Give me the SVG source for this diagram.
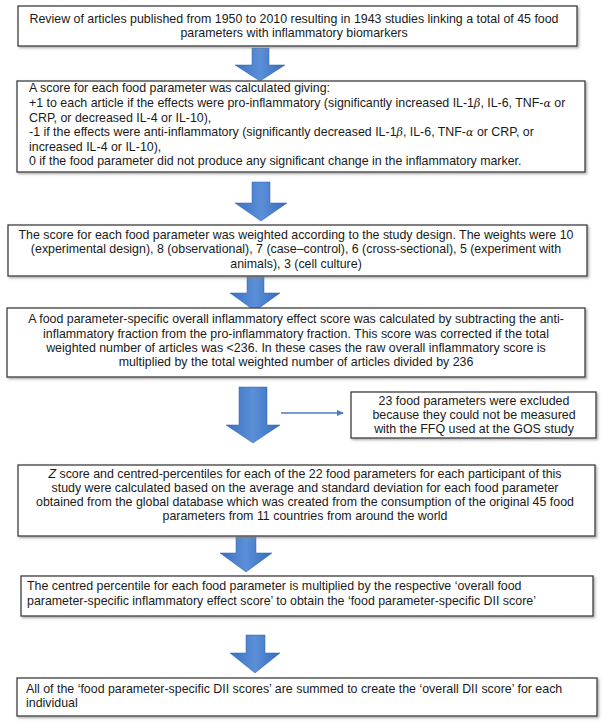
<svg xmlns="http://www.w3.org/2000/svg" width="604" height="722" viewBox="0 0 604 722">
<defs>
<linearGradient id="ah" x1="0" y1="0" x2="1" y2="0">
<stop offset="0" stop-color="#3a70c0"/>
<stop offset="0.5" stop-color="#5b8fd8"/>
<stop offset="1" stop-color="#356bbb"/>
</linearGradient>
<marker id="mh" markerWidth="8" markerHeight="8" refX="6" refY="4" orient="auto" markerUnits="userSpaceOnUse">
<path d="M0,1 L7,4 L0,7 Z" fill="#4a7cc4"/>
</marker>
<filter id="sh" x="-5%" y="-5%" width="110%" height="120%">
<feDropShadow dx="1.5" dy="1.5" stdDeviation="0.8" flood-color="#888" flood-opacity="0.7"/>
</filter>
</defs>
<style>
.box{fill:#fff;stroke:#3c3c3c;stroke-width:1.3;filter:url(#sh)}
text{font-family:"Liberation Sans",Arial,sans-serif;font-size:12.4px;fill:#1a1a1a}
.c{text-anchor:middle}
.arr{fill:url(#ah);stroke:#2f63b0;stroke-width:0.5}
.thin{stroke:#4a7cc4;stroke-width:1.6;fill:none}
.g{font-family:"DejaVu Serif",serif;font-style:italic;font-size:11px}
</style>
<rect width="604" height="722" fill="#fff"/>

<g id="connectors">
<path class="arr" d="M252,48 H269 V65 H285 L260,81 L235,65 H252 Z"/>
<path class="arr" d="M252,182 H270 V203 H287 L261,221 L235,203 H252 Z"/>
<path class="arr" d="M247,277 H264 V293 H280 L255,311 L230,293 H247 Z"/>
<path class="arr" d="M239,387 H267 V425 H280 L253,443 L226,425 H239 Z"/>
<path class="arr" d="M236,537 H256 V553 H272 L246,572 L220,553 H236 Z"/>
<path class="arr" d="M246,635 H265 V653 H280 L255,673 L230,653 H246 Z"/>
<line class="thin" x1="281" y1="413" x2="343" y2="413" marker-end="url(#mh)"/>
</g>

<g id="n1">
<rect class="box" x="18" y="6" width="559" height="40"/>
<text class="c" x="294" y="23">Review of articles published from 1950 to 2010 resulting in 1943 studies linking a total of 45 food</text>
<text class="c" x="294" y="37">parameters with inflammatory biomarkers</text>
</g>

<g id="n2">
<rect class="box" x="17" y="81" width="568" height="91"/>
<text x="29" y="92">A score for each food parameter was calculated giving:</text>
<text x="29" y="107">+1 to each article if the effects were pro-inflammatory (significantly increased IL-1<tspan class="g">β</tspan>, IL-6, TNF-<tspan class="g">α</tspan> or</text>
<text x="29" y="122">CRP, or decreased IL-4 or IL-10),</text>
<text x="29" y="136">-1 if the effects were anti-inflammatory (significantly decreased IL-1<tspan class="g">β</tspan>, IL-6, TNF-<tspan class="g">α</tspan> or CRP, or</text>
<text x="29" y="151">increased IL-4 or IL-10),</text>
<text x="29" y="165">0 if the food parameter did not produce any significant change in the inflammatory marker.</text>
</g>

<g id="n3">
<rect class="box" x="8" y="225" width="579" height="51"/>
<text class="c" x="296" y="239">The score for each food parameter was weighted according to the study design. The weights were 10</text>
<text class="c" x="296" y="253">(experimental design), 8 (observational), 7 (case–control), 6 (cross-sectional), 5 (experiment with</text>
<text class="c" x="296" y="268">animals), 3 (cell culture)</text>
</g>

<g id="n4">
<rect class="box" x="7" y="308" width="578" height="69"/>
<text class="c" x="296" y="323">A food parameter-specific overall inflammatory effect score was calculated by subtracting the anti-</text>
<text class="c" x="296" y="338">inflammatory fraction from the pro-inflammatory fraction. This score was corrected if the total</text>
<text class="c" x="296" y="352">weighted number of articles was &lt;236. In these cases the raw overall inflammatory score is</text>
<text class="c" x="296" y="366">multiplied by the total weighted number of articles divided by 236</text>
</g>

<g id="n5">
<rect class="box" x="351" y="392" width="245" height="46"/>
<text class="c" x="474" y="405">23 food parameters were excluded</text>
<text class="c" x="474" y="419">because they could not be measured</text>
<text class="c" x="474" y="433">with the FFQ used at the GOS study</text>
</g>

<g id="n6">
<rect class="box" x="18" y="465" width="577" height="71"/>
<text class="c" x="305" y="478"><tspan font-style="italic">Z</tspan> score and centred-percentiles for each of the 22 food parameters for each participant of this</text>
<text class="c" x="305" y="492">study were calculated based on the average and standard deviation for each food parameter</text>
<text class="c" x="305" y="506">obtained from the global database which was created from the consumption of the original 45 food</text>
<text class="c" x="305" y="520">parameters from 11 countries from around the world</text>
</g>

<g id="n7">
<rect class="box" x="21" y="576" width="572" height="40"/>
<text x="27" y="590">The centred percentile for each food parameter is multiplied by the respective ‘overall food</text>
<text x="27" y="605">parameter-specific inflammatory effect score’ to obtain the ‘food parameter-specific DII score’</text>
</g>

<g id="n8">
<rect class="box" x="17" y="678" width="580" height="38"/>
<text x="26" y="693">All of the ‘food parameter-specific DII scores’ are summed to create the ‘overall DII score’ for each</text>
<text x="26" y="707">individual</text>
</g>
</svg>
